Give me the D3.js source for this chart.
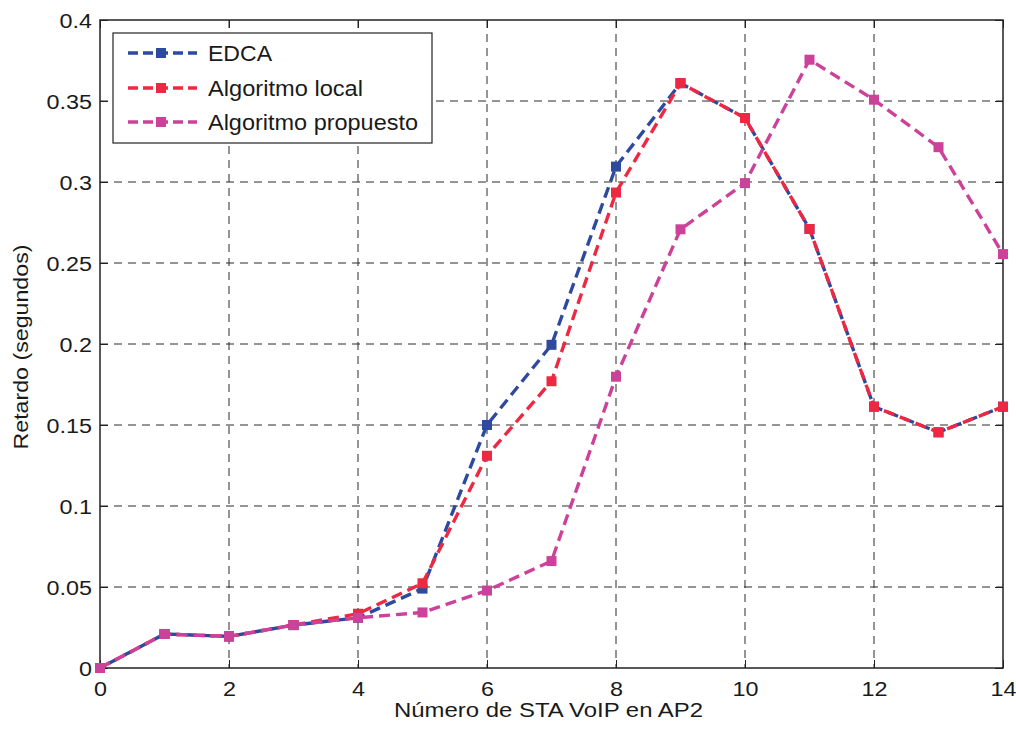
<!DOCTYPE html>
<html>
<head>
<meta charset="utf-8">
<script src="https://cdn.jsdelivr.net/npm/d3@7"></script>
<style>
  html, body { margin: 0; padding: 0; background: #fff; }
  svg { display: block; font-family: "Liberation Sans", Arial, sans-serif; }
</style>
</head>
<body>
<svg id="chart" width="1016" height="731"></svg>
<script>
// Number of VoIP stations on AP2
const stations = [0, 1, 2, 3, 4, 5, 6, 7, 8, 9, 10, 11, 12, 13, 14];

// Delay (seconds) per scheme
const edca      = [0, 0.021, 0.0195, 0.0265, 0.031, 0.049, 0.150, 0.1995, 0.3095, 0.361, 0.3395, 0.271, 0.1613, 0.1455, 0.1613];
const algLocal  = [0, 0.021, 0.0195, 0.0265, 0.0335, 0.0523, 0.131, 0.177, 0.2935, 0.361, 0.3395, 0.271, 0.1613, 0.1455, 0.1613];
const algProp   = [0, 0.021, 0.0195, 0.0265, 0.031, 0.0343, 0.0478, 0.066, 0.1798, 0.2708, 0.2993, 0.3755, 0.3508, 0.3215, 0.2555];

const seriesNames  = ["EDCA", "Algoritmo local", "Algoritmo propuesto"];
const seriesColors = ["#2d4a9f", "#ee2842", "#cc4199"];

const xTicks = [0, 2, 4, 6, 8, 10, 12, 14];
const yTicks = [0, 0.05, 0.1, 0.15, 0.2, 0.25, 0.3, 0.35, 0.4];
const yTickLabels = ["0", "0.05", "0.1", "0.15", "0.2", "0.25", "0.3", "0.35", "0.4"];

const xLabel = "Número de STA VoIP en AP2";
const yLabel = "Retardo (segundos)";

const svg = d3.select("#chart");
const W = 1016, H = 731;
const plot = { left: 100, right: 1003, top: 20, bottom: 668 };
const ink = "#1a1a1a";
const tickFont = 20.5;
const textWiden = 1.14;   // the typeface used here is set a little wider than Liberation Sans

svg.append("rect").attr("width", W).attr("height", H).attr("fill", "#fff");

const x = d3.scaleLinear().domain([0, 14]).range([plot.left, plot.right]);
const y = d3.scaleLinear().domain([0, 0.4]).range([plot.bottom, plot.top]);

// Grid
const grid = svg.append("g").attr("stroke", "#2a2a2a").attr("stroke-width", 1)
  .attr("stroke-dasharray", "8,6").attr("fill", "none");
xTicks.slice(1, -1).forEach(t => {
  grid.append("line").attr("x1", x(t)).attr("x2", x(t)).attr("y1", plot.top).attr("y2", plot.bottom);
});
yTicks.slice(1, -1).forEach(t => {
  grid.append("line").attr("x1", plot.left).attr("x2", plot.right).attr("y1", y(t)).attr("y2", y(t));
});

// Axes (ticks pointing inward, boxed)
const tickLen = 8;
const xAxisB = d3.axisBottom(x).tickValues(xTicks).tickSize(-tickLen).tickFormat(d3.format("d"));
const xAxisT = d3.axisTop(x).tickValues(xTicks).tickSize(-tickLen).tickFormat("");
const yAxisL = d3.axisLeft(y).tickValues(yTicks).tickSize(-tickLen)
  .tickFormat((d, i) => yTickLabels[i]);
const yAxisR = d3.axisRight(y).tickValues(yTicks).tickSize(-tickLen).tickFormat("");

function styleAxis(g) {
  g.select(".domain").remove();
  g.selectAll(".tick line").attr("stroke", "#222").attr("stroke-width", 1);
  g.selectAll(".tick text").attr("fill", ink).style("font-size", tickFont + "px");
}
function widen(sel, factor) {
  sel.each(function () {
    const len = this.getComputedTextLength();
    d3.select(this).attr("textLength", len * factor).attr("lengthAdjust", "spacingAndGlyphs");
  });
}

const gxB = svg.append("g").attr("transform", `translate(0,${plot.bottom})`).call(xAxisB).call(styleAxis);
gxB.selectAll(".tick text").attr("y", 28).attr("dy", null);
widen(gxB.selectAll(".tick text"), textWiden);
svg.append("g").attr("transform", `translate(0,${plot.top})`).call(xAxisT).call(styleAxis);
const gyL = svg.append("g").attr("transform", `translate(${plot.left},0)`).call(yAxisL).call(styleAxis);
gyL.selectAll(".tick text").attr("x", -8).attr("dy", "0.36em");
widen(gyL.selectAll(".tick text"), textWiden);
svg.append("g").attr("transform", `translate(${plot.right},0)`).call(yAxisR).call(styleAxis);

svg.append("rect")
  .attr("x", plot.left).attr("y", plot.top)
  .attr("width", plot.right - plot.left).attr("height", plot.bottom - plot.top)
  .attr("fill", "none").attr("stroke", "#222").attr("stroke-width", 1.5);

// Axis labels
svg.append("text").attr("x", (plot.left + plot.right) / 2 - 3).attr("y", 717)
  .attr("text-anchor", "middle").attr("fill", ink).style("font-size", "19.5px")
  .attr("textLength", 309).attr("lengthAdjust", "spacingAndGlyphs").text(xLabel);
svg.append("text").attr("transform", `translate(27.5,347) rotate(-90)`)
  .attr("text-anchor", "middle").attr("fill", ink).style("font-size", "19.5px")
  .attr("textLength", 205).attr("lengthAdjust", "spacingAndGlyphs").text(yLabel);

// Series
const allSeries = [edca, algLocal, algProp];
const line = d3.line().x((d, i) => x(stations[i])).y(d => y(d));
const markerSize = 10;
const offsets = [8, 0, 0];

allSeries.forEach((vals, s) => {
  const g = svg.append("g");
  g.append("path").datum(vals).attr("d", line)
    .attr("fill", "none").attr("stroke", seriesColors[s]).attr("stroke-width", 3.4)
    .attr("stroke-dasharray", "11,6").attr("stroke-dashoffset", offsets[s]);
  g.selectAll("rect").data(vals).join("rect")
    .attr("x", (d, i) => x(stations[i]) - markerSize / 2)
    .attr("y", d => y(d) - markerSize / 2)
    .attr("width", markerSize).attr("height", markerSize)
    .attr("fill", seriesColors[s]);
});

// Legend
const legend = svg.append("g");
legend.append("rect").attr("x", 113).attr("y", 33).attr("width", 319).attr("height", 110)
  .attr("fill", "#fff").attr("stroke", "#222").attr("stroke-width", 1.2);
const legendY = [53, 88, 122];
const legendTextLen = [64, 155, 210];
seriesNames.forEach((name, s) => {
  legend.append("line").attr("x1", 128).attr("x2", 197).attr("y1", legendY[s]).attr("y2", legendY[s])
    .attr("stroke", seriesColors[s]).attr("stroke-width", 3.4).attr("stroke-dasharray", "10,5");
  legend.append("rect").attr("x", 161 - markerSize / 2).attr("y", legendY[s] - markerSize / 2)
    .attr("width", markerSize).attr("height", markerSize).attr("fill", seriesColors[s]);
  legend.append("text").attr("x", 208).attr("y", legendY[s] + 8)
    .attr("fill", ink).style("font-size", "22px")
    .attr("textLength", legendTextLen[s]).attr("lengthAdjust", "spacingAndGlyphs").text(name);
});
</script>
</body>
</html>
